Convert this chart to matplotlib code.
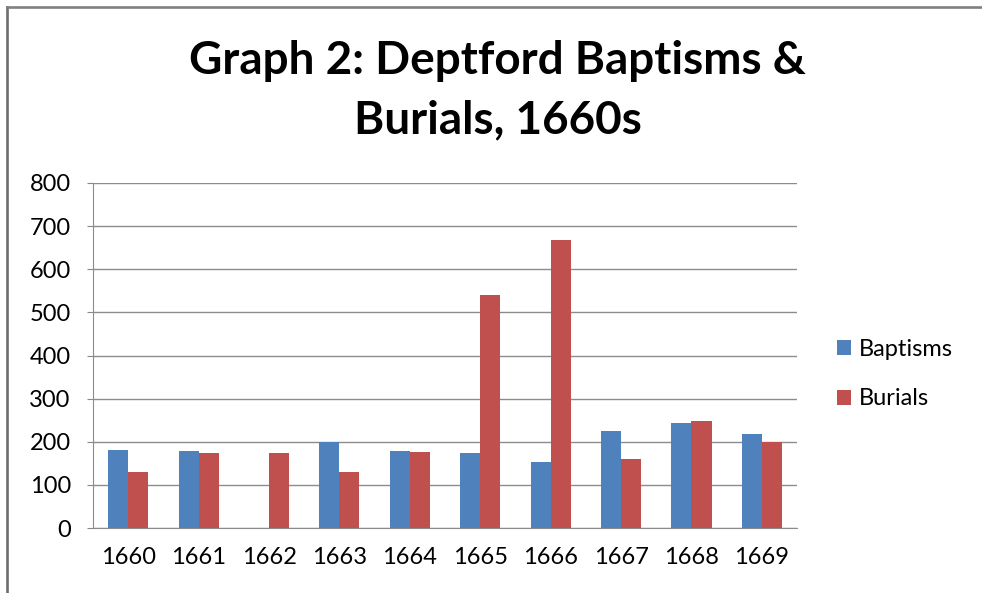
import numpy as np
import matplotlib.pyplot as plt
from matplotlib.lines import Line2D

# Données
annees = ['1660', '1661', '1662', '1663', '1664', '1665', '1666', '1667', '1668', '1669']
baptemes = [182, 179, 0, 200, 179, 174, 152, 225, 244, 219]
enterrements = [131, 174, 174, 129, 177, 540, 668, 161, 249, 199]

bleu = '#4F81BD'
rouge = '#C0504D'

plt.rcParams['font.family'] = ['Lato', 'DejaVu Sans']

fig = plt.figure(figsize=(9.82, 5.93), dpi=100)
ax = fig.add_axes([0.0947, 0.1096, 0.717, 0.5818])

x = np.arange(len(annees))
largeur = 0.285
ax.bar(x - largeur / 2, baptemes, largeur, color=bleu, label='Baptisms', zorder=3)
ax.bar(x + largeur / 2, enterrements, largeur, color=rouge, label='Burials', zorder=3)

ax.set_xlim(-0.5, len(annees) - 0.5)
ax.set_ylim(0, 800)
ax.set_yticks(range(0, 801, 100))
ax.set_xticks(x)
ax.set_xticklabels(annees)
ax.tick_params(axis='x', length=0, labelsize=17, pad=14)
ax.tick_params(axis='y', length=4, color='#888888', labelsize=17, pad=12)
ax.yaxis.grid(True, color='#8c8c8c', linewidth=1, zorder=0)
for cote in ['top', 'right']:
    ax.spines[cote].set_visible(False)
for cote in ['left', 'bottom']:
    ax.spines[cote].set_color('#8c8c8c')

fig.text(0.507, 0.847, 'Graph 2: Deptford Baptisms &\nBurials, 1660s', ha='center', va='center',
         fontsize=33, fontweight='bold', linespacing=1.5)

ax.legend(loc='center left', bbox_to_anchor=(0.852, 0.369), bbox_transform=fig.transFigure,
          frameon=False, fontsize=17, handlelength=0.6, handleheight=0.6,
          labelspacing=1.2, handletextpad=0.35, borderpad=0, borderaxespad=0)

# Cadre (bord gauche et bord haut seulement)
gx = 6.5 / 982
hy = 1 - 7 / 593
fig.add_artist(Line2D([gx, gx], [0, hy], transform=fig.transFigure, color='#6e6e6e', linewidth=1.9))
fig.add_artist(Line2D([gx, 1], [hy, hy], transform=fig.transFigure, color='#808080', linewidth=1.9))

fig.savefig('out.png', dpi=100)
